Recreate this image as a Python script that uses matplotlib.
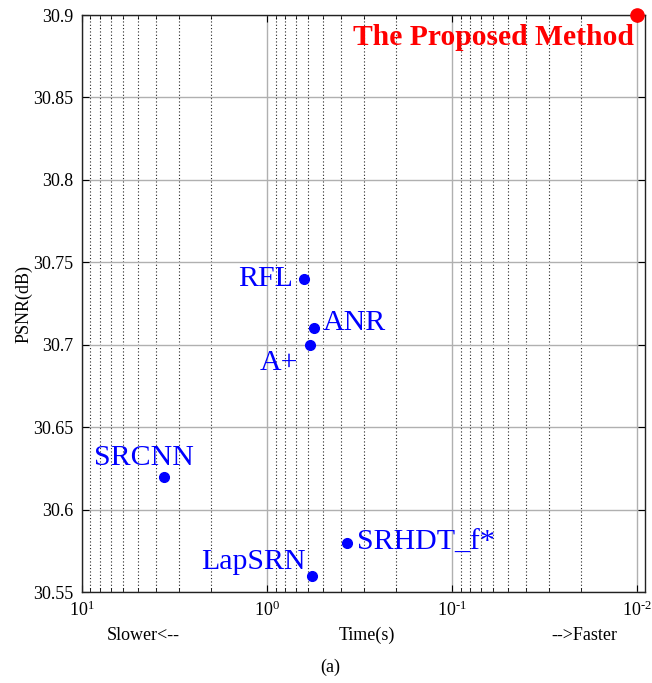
import matplotlib
matplotlib.use("Agg")
import matplotlib.pyplot as plt
from matplotlib.ticker import LogLocator, FixedLocator, FuncFormatter, NullFormatter

plt.rcParams['font.family'] = ['Liberation Serif', 'DejaVu Serif']
plt.rcParams['mathtext.fontset'] = 'custom'
plt.rcParams['mathtext.rm'] = 'Liberation Serif'
plt.rcParams['mathtext.it'] = 'Liberation Serif:italic'

# Data
methods = ['RFL', 'ANR', 'A+', 'SRCNN', 'LapSRN', 'SRHDT_f*']
times = [0.628, 0.555, 0.586, 3.59, 0.569, 0.368]
psnr = [30.74, 30.71, 30.70, 30.62, 30.56, 30.58]
proposed_name = 'The Proposed Method'
proposed_time = 0.01
proposed_psnr = 30.9

xticks = [10, 1, 0.1, 0.01]
xticklabels = ['$10^{1}$', '$10^{0}$', '$10^{\\text{-}1}$', '$10^{\\text{-}2}$']
yticks = [30.55, 30.6, 30.65, 30.7, 30.75, 30.8, 30.85, 30.9]

# label offsets in points and alignment
offsets = {
    'RFL': ((-8, 0), 'right'),
    'ANR': ((6, 4), 'left'),
    'A+': ((-8.5, -13), 'right'),
    'SRCNN': ((-15, 13.5), 'center'),
    'LapSRN': ((-5, 9.5), 'right'),
    'SRHDT_f*': ((7, 0), 'left'),
}

fig = plt.figure(figsize=(6.52, 6.83), dpi=100)
ax = fig.add_axes([0.1258, 0.1332, 0.8635, 0.8448])

ax.set_xscale('log')
ax.set_xlim(10, 0.00906)
ax.set_ylim(30.55, 30.9)

ax.plot(times, psnr, 'o', color='#0000ff', markersize=7, linestyle='none', zorder=5, clip_on=False)
ax.plot([proposed_time], [proposed_psnr], 'o', color='#ff0000', markersize=9.5, zorder=6, clip_on=False)

for m, t, p in zip(methods, times, psnr):
    off, ha = offsets[m]
    ax.annotate(m, (t, p), xytext=off, textcoords='offset points', ha=ha, va='center',
                fontsize=21.5, color='#0000ff')
ax.annotate(proposed_name, (proposed_time, proposed_psnr), xytext=(-2, -16),
            textcoords='offset points', ha='right', va='center', fontsize=21.3,
            fontweight='bold', color='#ff0000')

ax.xaxis.set_major_locator(FixedLocator(xticks))
ax.set_xticklabels(xticklabels)
ax.xaxis.set_minor_locator(LogLocator(base=10, subs=range(2, 10), numticks=20))
ax.xaxis.set_minor_formatter(NullFormatter())
ax.set_yticks(yticks)
ax.yaxis.set_major_formatter(FuncFormatter(lambda v, pos: '%g' % round(v, 2)))

ax.grid(True, which='major', axis='both', color='#b0b0b0', linestyle='-', linewidth=1.0)
ax.grid(True, which='minor', axis='x', color='#222222', linestyle=(0, (1, 2)), linewidth=0.8)
ax.set_axisbelow(True)

ax.tick_params(axis='both', which='major', direction='in', top=True, right=True,
               length=5, width=0.8, labelsize=13, pad=6)
ax.tick_params(axis='x', which='minor', direction='in', top=True, length=3, width=0.6)
for s in ax.spines.values():
    s.set_linewidth(1.0)
    s.set_color('#222222')

ax.set_ylabel('PSNR(dB)', fontsize=13, labelpad=1)

ax.text(0.108, -0.075, 'Slower<--', transform=ax.transAxes, ha='center', va='center', fontsize=13)
ax.text(0.506, -0.075, 'Time(s)', transform=ax.transAxes, ha='center', va='center', fontsize=13)
ax.text(0.893, -0.075, '-->Faster', transform=ax.transAxes, ha='center', va='center', fontsize=13)
fig.text(0.506, 0.0234, '(a)', ha='center', va='center', fontsize=13)

fig.savefig('out.png', dpi=100)
